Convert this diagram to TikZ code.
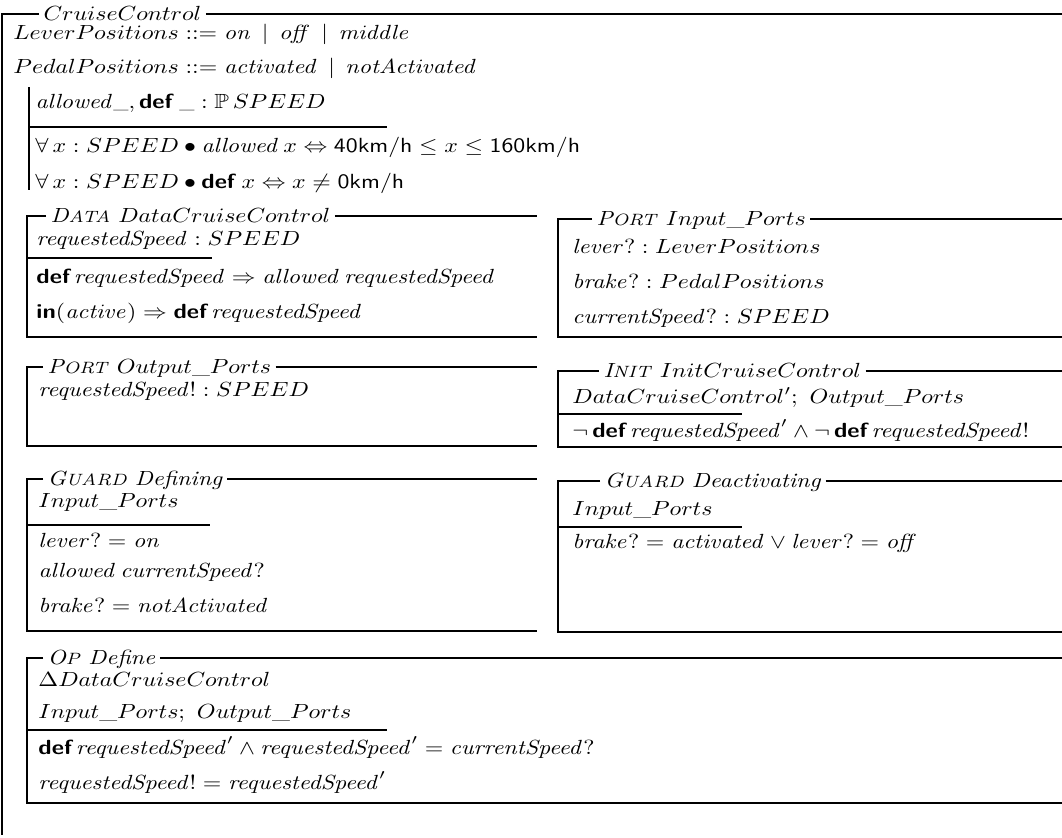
\documentclass[tikz,border=0pt]{standalone}
\usepackage{amsmath,amssymb,graphicx}
\newcommand{\kw}[1]{\textsf{\bfseries #1}}
\newcommand{\unit}[1]{\textsf{#1}}
\newcommand{\zhole}{\mbox{\footnotesize\_}}
\newcommand{\zkind}[2]{\textit{#1\footnotesize #2}}
\newcommand{\zt}[1]{\scalebox{1}[0.86]{#1}}
\tikzset{
  zline/.style={line width=0.7pt},
  zrow/.style={anchor=base west, inner sep=0pt},
  ztitle/.style={anchor=base west, inner xsep=1.7pt, inner ysep=0pt},
}
\begin{document}
\begin{tikzpicture}[x=0.42pt,y=-0.42pt,font=\fontsize{10}{12}\selectfont]
  \useasboundingbox (0,0) rectangle (1062,837);
  % outer schema
  \node[ztitle] (tcruise) at (39,20) {\zt{$CruiseControl$}};
  \draw[zline] (tcruise.west |- 0,14) -- (2,14) -- (2,835);
  \draw[zline] (tcruise.east |- 0,14) -- (1062,14);
  \node[zrow] (lever) at (13,39) {\zt{$LeverPositions ::= \mathit{on} \,\mid\, \mathit{off} \,\mid\, \mathit{middle}$}};
  \node[zrow] (pedal) at (13,73) {\zt{$PedalPositions ::= \mathit{activated} \,\mid\, \mathit{notActivated}$}};
  % axiomatic definition
  \draw[zline] (29,87) -- (29,190);
  \draw[zline] (29,127) -- (387,127);
  \node[zrow] (axdecl) at (35,108) {\zt{$\mathit{allowed}\zhole, \kw{def}\;\zhole : \mathbb{P}\,SPEED$}};
  \node[zrow] (axone) at (35,152) {\zt{$\forall\,x : SPEED \bullet \mathit{allowed}\,x \Leftrightarrow \unit{40km/h} \leq x \leq \unit{160km/h}$}};
  \node[zrow] (axtwo) at (35,188) {\zt{$\forall\,x : SPEED \bullet \kw{def}\;x \Leftrightarrow x \neq \unit{0km/h}$}};
  % data
  \node[ztitle] (tdata) at (46,222) {\zt{\zkind{D}{ATA} $DataCruiseControl$}};
  \draw[zline] (tdata.west |- 0,216) -- (27,216) -- (27,337) -- (537,337);
  \draw[zline] (tdata.east |- 0,216) -- (537,216);
  \draw[zline] (27,258) -- (212,258);
  \node[zrow] (dvar) at (36,245) {\zt{$\mathit{requestedSpeed} : SPEED$}};
  \node[zrow] (dpone) at (36,283) {\zt{$\kw{def}\,\mathit{requestedSpeed} \Rightarrow \mathit{allowed}\,\mathit{requestedSpeed}$}};
  \node[zrow] (dptwo) at (36,318) {\zt{$\kw{in}(\mathit{active}) \Rightarrow \kw{def}\,\mathit{requestedSpeed}$}};
  % input ports
  \node[ztitle] (tinput) at (592,225) {\zt{\zkind{P}{ORT} $Input\_Ports$}};
  \draw[zline] (tinput.west |- 0,219) -- (558,219) -- (558,337) -- (1062,337);
  \draw[zline] (tinput.east |- 0,219) -- (1062,219);
  \node[zrow] (inlever) at (572,253) {\zt{$\mathit{lever?} : LeverPositions$}};
  \node[zrow] (inbrake) at (572,288) {\zt{$\mathit{brake?} : PedalPositions$}};
  \node[zrow] (inspeed) at (572,323) {\zt{$\mathit{currentSpeed?} : SPEED$}};
  % output ports
  \node[ztitle] (toutput) at (43,373) {\zt{\zkind{P}{ORT} $Output\_Ports$}};
  \draw[zline] (toutput.west |- 0,367) -- (27,367) -- (27,446) -- (537,446);
  \draw[zline] (toutput.east |- 0,367) -- (537,367);
  \node[zrow] (outspeed) at (38,396) {\zt{$\mathit{requestedSpeed!} : SPEED$}};
  % init
  \node[ztitle] (tinit) at (599,377) {\zt{\zkind{I}{NIT} $InitCruiseControl$}};
  \draw[zline] (tinit.west |- 0,371) -- (558,371) -- (558,447) -- (1062,447);
  \draw[zline] (tinit.east |- 0,371) -- (1062,371);
  \draw[zline] (558,414) -- (742,414);
  \node[zrow] (initdecl) at (572,403) {\zt{$DataCruiseControl';\ Output\_Ports$}};
  \node[zrow] (initpred) at (572,437) {\zt{$\neg\,\kw{def}\,\mathit{requestedSpeed}' \wedge \neg\,\kw{def}\,\mathit{requestedSpeed!}$}};
  % guard defining
  \node[ztitle] (tdefining) at (43,485) {\zt{\zkind{G}{UARD} \textit{Defining}}};
  \draw[zline] (tdefining.west |- 0,479) -- (27,479) -- (27,631) -- (537,631);
  \draw[zline] (tdefining.east |- 0,479) -- (537,479);
  \draw[zline] (27,525) -- (210,525);
  \node[zrow] (gdecl) at (38,507) {\zt{$Input\_Ports$}};
  \node[zrow] (gpone) at (38,547) {\zt{$\mathit{lever?} = \mathit{on}$}};
  \node[zrow] (gptwo) at (38,577) {\zt{$\mathit{allowed}\,\mathit{currentSpeed?}$}};
  \node[zrow] (gpthree) at (38,612) {\zt{$\mathit{brake?} = \mathit{notActivated}$}};
  % guard deactivating
  \node[ztitle] (tdeact) at (600,487) {\zt{\zkind{G}{UARD} \textit{Deactivating}}};
  \draw[zline] (tdeact.west |- 0,481) -- (558,481) -- (558,632) -- (1062,632);
  \draw[zline] (tdeact.east |- 0,481) -- (1062,481);
  \draw[zline] (558,527) -- (742,527);
  \node[zrow] (hdecl) at (572,515) {\zt{$Input\_Ports$}};
  \node[zrow] (hpred) at (572,548) {\zt{$\mathit{brake?} = \mathit{activated} \vee \mathit{lever?} = \mathit{off}$}};
  % operation define
  \node[ztitle] (tdefine) at (43,664) {\zt{\zkind{O}{P} \textit{Define}}};
  \draw[zline] (tdefine.west |- 0,658) -- (27,658) -- (27,803) -- (1062,803);
  \draw[zline] (tdefine.east |- 0,658) -- (1062,658);
  \draw[zline] (27,730) -- (387,730);
  \node[zrow] (odelta) at (38,686) {\zt{$\Delta DataCruiseControl$}};
  \node[zrow] (oports) at (38,718) {\zt{$Input\_Ports;\ Output\_Ports$}};
  \node[zrow] (opone) at (38,754) {\zt{$\kw{def}\,\mathit{requestedSpeed}' \wedge \mathit{requestedSpeed}' = \mathit{currentSpeed?}$}};
  \node[zrow] (optwo) at (38,789) {\zt{$\mathit{requestedSpeed!} = \mathit{requestedSpeed}'$}};
\end{tikzpicture}
\end{document}
